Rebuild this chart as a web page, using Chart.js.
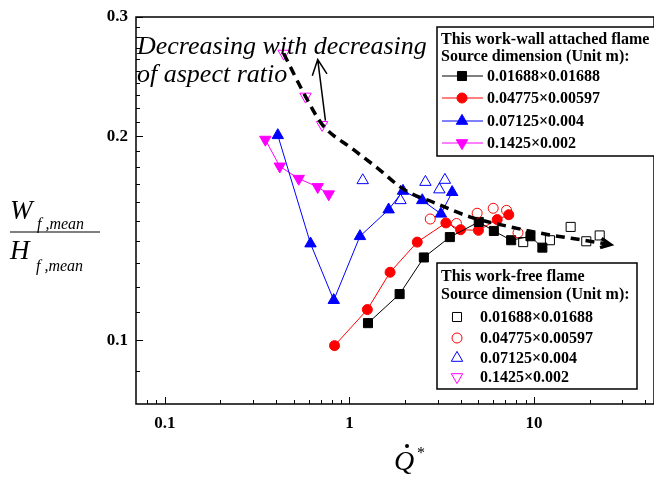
<!DOCTYPE html>
<html lang="en">
<head>
<meta charset="UTF-8">
<title>Flame aspect ratio vs Q*</title>
<script src="https://cdn.jsdelivr.net/npm/chart.js"></script>
<style>
  html, body { margin: 0; padding: 0; background: #fff; }
  #wrap { width: 654px; height: 479px; position: relative; }
</style>
</head>
<body>
<div id="wrap"><canvas id="flameChart"></canvas></div>
<script>
// ---- data ----
// wall attached flame (filled, joined)
const wallBlackX = [1.26, 1.87, 2.53, 3.50, 5.02, 6.06, 7.52, 9.57, 11.1];
const wallBlackY = [0.106, 0.117, 0.1325, 0.142, 0.1495, 0.145, 0.1405, 0.1424, 0.137];
const wallRedX = [0.83, 1.25, 1.66, 2.33, 3.33, 4.0, 5.0, 6.32, 7.3];
const wallRedY = [0.0982, 0.111, 0.126, 0.1396, 0.149, 0.1456, 0.1453, 0.1507, 0.1532];
const wallBlueX = [0.409, 0.615, 0.822, 1.14, 1.63, 1.95, 2.48, 3.13, 3.60];
const wallBlueY = [0.2007, 0.1389, 0.1146, 0.1424, 0.1559, 0.1661, 0.1609, 0.1537, 0.1654];
const wallMagX = [0.350, 0.419, 0.531, 0.673, 0.772];
const wallMagY = [0.1978, 0.1806, 0.1732, 0.1684, 0.1643];

// free flame (open markers)
const freeBlackX = [8.74, 12.2, 15.8, 19.2, 22.7];
const freeBlackY = [0.1396, 0.1405, 0.147, 0.140, 0.1428];
const freeRedX = [2.74, 3.80, 4.92, 6.01, 7.10, 8.19];
const freeRedY = [0.151, 0.1487, 0.154, 0.1566, 0.1555, 0.1441];
const freeBlueX = [1.18, 1.89, 2.58, 3.07, 3.29];
const freeBlueY = [0.1722, 0.1609, 0.1712, 0.1669, 0.1724];
const freeMagX = [0.44, 0.578, 0.711];
const freeMagY = [0.265, 0.229, 0.208];

// dashed trend curve
const trendX = [0.44, 0.578, 0.711, 1.034, 1.413, 1.97, 2.99, 4.53, 7.46, 12.3, 18.6, 25.3];
const trendY = [0.265, 0.229, 0.2083, 0.1918, 0.1797, 0.167, 0.159, 0.152, 0.147, 0.143, 0.1405, 0.1386];

// solid arrow (from, to)
const arrowX = [0.741, 0.673];
const arrowY = [0.211, 0.2596];

const sizeLabels = ['0.01688×0.01688', '0.04775×0.00597', '0.07125×0.004', '0.1425×0.002'];
const wallTitle = ['This work-wall attached flame', 'Source dimension (Unit m):'];
const freeTitle = ['This work-free flame', 'Source dimension (Unit m):'];
const noteLines = ['Decreasing with decreasing', 'of aspect ratio'];

const xMajor = [0.1, 1, 10];
const xMinor = [0.08, 0.09, 0.2, 0.3, 0.4, 0.5, 0.6, 0.7, 0.8, 0.9, 2, 3, 4, 5, 6, 7, 8, 9, 20, 30, 40];
const yMajor = [0.1, 0.2, 0.3];
const yMinor = [0.09, 0.11, 0.12, 0.13, 0.14, 0.15, 0.16, 0.17, 0.18, 0.19,
                0.21, 0.22, 0.23, 0.24, 0.25, 0.26, 0.27, 0.28, 0.29];

const colors = ['#000000', '#ff0000', '#0000ff', '#ff00ff'];
const styles = [
  { ps: 'rect', r: 6.4, rot: 0 },
  { ps: 'circle', r: 5, rot: 0 },
  { ps: 'triangle', r: 6.6, rot: 0 },
  { ps: 'triangle', r: 6.6, rot: 180 }
];

function pts(xs, ys) { return xs.map((x, i) => ({ x: x, y: ys[i] })); }

const wallSets = [[wallBlackX, wallBlackY], [wallRedX, wallRedY], [wallBlueX, wallBlueY], [wallMagX, wallMagY]];
const freeSets = [[freeBlackX, freeBlackY], [freeRedX, freeRedY], [freeBlueX, freeBlueY], [freeMagX, freeMagY]];

const datasets = [];
datasets.push({
  label: 'trend',
  data: pts(trendX, trendY),
  showLine: true,
  borderColor: '#000',
  borderWidth: 3.5,
  borderDash: [9, 6],
  pointRadius: 0,
  cubicInterpolationMode: 'monotone',
  order: 0
});
wallSets.forEach((s, i) => {
  datasets.push({
    label: 'wall ' + sizeLabels[i],
    data: pts(s[0], s[1]),
    showLine: true,
    borderColor: colors[i],
    borderWidth: 1,
    pointStyle: styles[i].ps,
    rotation: styles[i].rot,
    pointRadius: styles[i].r,
    pointBackgroundColor: colors[i],
    pointBorderColor: colors[i],
    pointBorderWidth: 1,
    order: 2
  });
});
freeSets.forEach((s, i) => {
  datasets.push({
    label: 'free ' + sizeLabels[i],
    data: pts(s[0], s[1]),
    showLine: false,
    pointStyle: styles[i].ps,
    rotation: styles[i].rot,
    pointRadius: styles[i].r,
    pointBackgroundColor: 'rgba(0,0,0,0)',
    pointBorderColor: colors[i],
    pointBorderWidth: 1,
    order: 1
  });
});

function marker(ctx, st, x, y, color, filled) {
  const r = st.r;
  ctx.save();
  ctx.beginPath();
  if (st.ps === 'rect') {
    const h = r * Math.SQRT1_2;
    ctx.rect(x - h, y - h, 2 * h, 2 * h);
  } else if (st.ps === 'circle') {
    ctx.arc(x, y, r, 0, Math.PI * 2);
  } else {
    let a = st.rot * Math.PI / 180;
    ctx.moveTo(x + Math.sin(a) * r, y - Math.cos(a) * r);
    a += Math.PI * 2 / 3;
    ctx.lineTo(x + Math.sin(a) * r, y - Math.cos(a) * r);
    a += Math.PI * 2 / 3;
    ctx.lineTo(x + Math.sin(a) * r, y - Math.cos(a) * r);
    ctx.closePath();
  }
  ctx.lineWidth = 1;
  ctx.strokeStyle = color;
  if (filled) { ctx.fillStyle = color; ctx.fill(); }
  ctx.stroke();
  ctx.restore();
}

const decorPlugin = {
  id: 'decor',
  beforeDatasetsDraw(chart) {
    const { ctx, chartArea: a, scales: { x, y } } = chart;
    ctx.save();
    ctx.strokeStyle = '#000';
    ctx.lineWidth = 1.5;
    ctx.strokeRect(a.left, a.top, a.right - a.left, a.bottom - a.top);
    ctx.lineWidth = 1;
    ctx.beginPath();
    xMajor.concat(xMinor).forEach(v => {
      const px = Math.round(x.getPixelForValue(v)) + 0.5;
      const len = xMajor.includes(v) ? 7 : 4;
      ctx.moveTo(px, a.bottom); ctx.lineTo(px, a.bottom - len);
    });
    yMajor.concat(yMinor).forEach(v => {
      const py = Math.round(y.getPixelForValue(v)) + 0.5;
      const len = yMajor.includes(v) ? 7 : 4;
      ctx.moveTo(a.left, py); ctx.lineTo(a.left + len, py);
    });
    ctx.stroke();
    ctx.restore();
  },
  afterDatasetsDraw(chart) {
    const { ctx, scales: { x, y } } = chart;
    ctx.save();
    // arrowhead at the end of the dashed curve
    const tx1 = x.getPixelForValue(trendX[trendX.length - 1]);
    const ty1 = y.getPixelForValue(trendY[trendY.length - 1]);
    const tx0 = x.getPixelForValue(trendX[trendX.length - 2]);
    const ty0 = y.getPixelForValue(trendY[trendY.length - 2]);
    let ang = Math.atan2(ty1 - ty0, tx1 - tx0);
    ctx.strokeStyle = '#000';
    ctx.lineWidth = 3.5;
    ctx.beginPath();
    ctx.moveTo(tx1 - 9 * Math.cos(ang - 0.55), ty1 - 9 * Math.sin(ang - 0.55));
    ctx.lineTo(tx1 + 2 * Math.cos(ang), ty1 + 2 * Math.sin(ang));
    ctx.lineTo(tx1 - 9 * Math.cos(ang + 0.55), ty1 - 9 * Math.sin(ang + 0.55));
    ctx.stroke();

    // solid arrow
    const ax0 = x.getPixelForValue(arrowX[0]), ay0 = y.getPixelForValue(arrowY[0]);
    const ax1 = x.getPixelForValue(arrowX[1]), ay1 = y.getPixelForValue(arrowY[1]);
    ang = Math.atan2(ay1 - ay0, ax1 - ax0);
    ctx.lineWidth = 1.5;
    ctx.beginPath();
    ctx.moveTo(ax0, ay0); ctx.lineTo(ax1, ay1);
    ctx.moveTo(ax1 - 17 * Math.cos(ang - 0.45), ay1 - 17 * Math.sin(ang - 0.45));
    ctx.lineTo(ax1, ay1);
    ctx.lineTo(ax1 - 17 * Math.cos(ang + 0.45), ay1 - 17 * Math.sin(ang + 0.45));
    ctx.stroke();

    // note text
    ctx.fillStyle = '#000';
    ctx.font = 'italic 26px "Liberation Serif"';
    ctx.textAlign = 'left';
    ctx.textBaseline = 'alphabetic';
    ctx.fillText(noteLines[0], 137, 54);
    ctx.fillText(noteLines[1], 137, 82);

    // legend: wall attached
    ctx.fillStyle = '#fff';
    ctx.fillRect(437, 27, 230, 129);
    ctx.strokeStyle = '#000';
    ctx.lineWidth = 1.5;
    ctx.strokeRect(437, 27, 230, 129);
    ctx.fillStyle = '#000';
    ctx.font = 'bold 16px "Liberation Serif"';
    ctx.textBaseline = 'middle';
    ctx.fillText(wallTitle[0], 441, 40);
    ctx.fillText(wallTitle[1], 441, 57);
    const rowsA = [76, 98, 121, 143];
    sizeLabels.forEach((t, i) => {
      const yy = rowsA[i];
      ctx.strokeStyle = colors[i];
      ctx.lineWidth = 1;
      ctx.beginPath(); ctx.moveTo(442, yy); ctx.lineTo(483, yy); ctx.stroke();
      marker(ctx, styles[i], 462, yy, colors[i], true);
      ctx.fillStyle = '#000';
      ctx.fillText(t, 487, yy + 1);
    });

    // legend: free flame
    ctx.fillStyle = '#fff';
    ctx.fillRect(437, 263, 200, 126);
    ctx.strokeStyle = '#000';
    ctx.lineWidth = 1.5;
    ctx.strokeRect(437, 263, 200, 126);
    ctx.fillStyle = '#000';
    ctx.fillText(freeTitle[0], 441, 277);
    ctx.fillText(freeTitle[1], 441, 295);
    const rowsB = [317, 338, 358, 377];
    sizeLabels.forEach((t, i) => {
      const yy = rowsB[i];
      marker(ctx, styles[i], 457, yy, colors[i], false);
      ctx.fillStyle = '#000';
      ctx.fillText(t, 480, yy + 1);
    });

    // axis titles
    ctx.textBaseline = 'alphabetic';
    ctx.font = 'italic 28px "Liberation Serif"';
    ctx.fillText('Q', 394, 470);
    ctx.beginPath(); ctx.arc(407, 446, 2, 0, Math.PI * 2); ctx.fill();
    ctx.font = '16px "Liberation Serif"';
    ctx.fillText('*', 417, 458);

    ctx.font = 'italic 27px "Liberation Serif"';
    ctx.fillText('W', 10, 219);
    ctx.fillText('H', 10, 259);
    ctx.font = 'italic 16px "Liberation Serif"';
    ctx.fillText('f ,mean', 37, 229);
    ctx.fillText('f ,mean', 36, 271);
    ctx.lineWidth = 1.2;
    ctx.strokeStyle = '#000';
    ctx.beginPath(); ctx.moveTo(10, 232); ctx.lineTo(100, 232); ctx.stroke();
    ctx.restore();
  }
};

const tickFont = { family: '"Liberation Serif"', size: 17, weight: 'bold' };

new Chart(document.getElementById('flameChart'), {
  type: 'scatter',
  data: { datasets: datasets },
  options: {
    responsive: true,
    maintainAspectRatio: false,
    devicePixelRatio: 1,
    animation: false,
    layout: { autoPadding: false, padding: { top: 17, right: 0, bottom: 0, left: 0 } },
    plugins: { legend: { display: false }, tooltip: { enabled: false } },
    scales: {
      x: {
        type: 'logarithmic',
        min: 0.0697,
        max: 44.7,
        grid: { display: false, drawTicks: false },
        border: { display: false },
        afterBuildTicks: s => { s.ticks = xMajor.map(v => ({ value: v })); },
        afterFit: s => { s.height = 75; s.paddingLeft = 0; s.paddingRight = 0; },
        ticks: {
          padding: 9,
          color: '#000',
          font: tickFont,
          autoSkip: false,
          maxRotation: 0,
          callback: v => String(v)
        }
      },
      y: {
        type: 'logarithmic',
        min: 0.08053,
        max: 0.3,
        grid: { display: false, drawTicks: false },
        border: { display: false },
        afterBuildTicks: s => { s.ticks = yMajor.map(v => ({ value: v })); },
        afterFit: s => { s.width = 136; s.paddingTop = 0; s.paddingBottom = 0; },
        ticks: {
          padding: 8,
          color: '#000',
          font: tickFont,
          autoSkip: false,
          callback: v => String(v)
        }
      }
    }
  },
  plugins: [decorPlugin]
});
</script>
</body>
</html>
